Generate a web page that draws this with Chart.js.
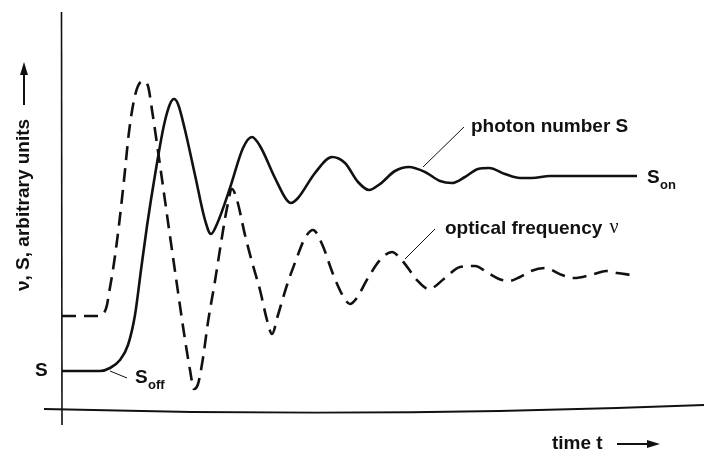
<!DOCTYPE html>
<html>
<head>
<meta charset="utf-8">
<script src="https://cdn.jsdelivr.net/npm/chart.js@4"></script>
<style>
  html, body { margin: 0; padding: 0; background: #fff; }
  #chart { display: block; }
</style>
</head>
<body>
<canvas id="chart" width="704" height="452"></canvas>
<script>
// time axis in arbitrary units (0..160), signal axis in arbitrary units (0..100)

// photon number S (solid)
const photonT = [0, 9.5, 12, 14.5, 16.5, 18.25, 19.75, 21.25, 23.25, 25.5, 27, 28, 29, 30.75, 33.25, 35.75,
  37.25, 38.75, 42, 45.25, 47.5, 49.5, 53.25, 56, 57.25, 59, 63.25, 67.5, 70.75, 74, 76.75, 79.5,
  83.25, 86.75, 90.75, 94.5, 97.5, 100.75, 104, 106.75, 110.75, 114.5, 117.5, 122, 134.5, 143.75];
const photonS = [9.75, 9.75, 10.5, 12.5, 16.25, 23.75, 35, 46, 58.75, 71.25, 76.5, 77.75, 76.5, 70, 58.75, 47.5,
  44, 46.5, 55.5, 65.5, 68.25, 66, 58, 52.75, 51.75, 53, 59.25, 63.25, 61.75, 57, 55, 56.5,
  59.75, 60.75, 59.5, 57.25, 56.75, 58.25, 60.25, 60.5, 59, 58, 58, 58.5, 58.5, 58.5];

// optical frequency nu (dashed)
const freqT = [0, 9.5, 10.5, 11.25, 11.75, 12.5, 13.25, 14.25, 15.5, 16.75, 18, 19, 20.25, 21.5, 22.5, 24.5,
  26.5, 28.5, 30.5, 32, 33, 34, 35.25, 36.5, 38.25, 39.75, 41.25, 42.5, 43.75, 45.75, 47.5, 49.5,
  51.25, 52.5, 54, 56.25, 58.5, 60.75, 62.75, 65, 67.75, 70.25, 72, 73.5, 76.5, 79.5, 82.5, 84.5,
  86.5, 88.5, 91.75, 95.75, 99.5, 103.25, 106.5, 109.25, 111.75, 114.5, 117.25, 120.75, 125, 128,
  133, 136, 138.75, 142.5];
const freqNu = [23.5, 23.5, 24.25, 26.25, 29.25, 33.5, 38.5, 46.25, 57.5, 69.5, 77.5, 81, 82.25, 81, 75, 61.25,
  47, 33, 19.25, 10, 5.25, 6.5, 13, 22, 32.25, 41.75, 50.5, 55.25, 52.5, 43.75, 37, 30,
  22.5, 19, 23.75, 31.25, 37.5, 43, 45, 41.5, 34, 28.5, 26.5, 27.75, 33, 37.5, 39.5, 38,
  35.5, 32.75, 30.25, 33, 35.75, 36, 34.25, 32.75, 32.25, 33.25, 34.75, 35.5, 33.75, 33,
  34, 34.75, 34.25, 33.75];

const toPoints = (xs, ys) => xs.map((x, i) => ({ x: x, y: ys[i] }));

const INK = '#111';
const FONT = "bold 19px 'Liberation Sans', Arial, sans-serif";
const SUB_FONT = "bold 13px 'Liberation Sans', Arial, sans-serif";
const NU_FONT = "20px 'Liberation Serif', 'DejaVu Serif', serif";

// axes, labels and leader lines drawn like the textbook figure
const sketchPlugin = {
  id: 'sketch',
  afterDraw(chart) {
    const ctx = chart.ctx;
    const xs = chart.scales.x;
    const ys = chart.scales.y;
    const px = v => xs.getPixelForValue(v);
    const py = v => ys.getPixelForValue(v);
    ctx.save();
    ctx.strokeStyle = INK;
    ctx.fillStyle = INK;

    // vertical axis
    ctx.lineWidth = 1.6;
    ctx.beginPath();
    ctx.moveTo(px(0) - 0.5, chart.chartArea.top + 2);
    ctx.lineTo(px(0), py(0) + 15);
    ctx.stroke();

    // horizontal axis (slightly bowed, as in the scan)
    ctx.lineWidth = 1.8;
    ctx.beginPath();
    ctx.moveTo(px(0) - 18, py(0) - 1);
    ctx.quadraticCurveTo(374, py(0) + 8, chart.width, py(0) - 5);
    ctx.stroke();

    // leader lines
    ctx.lineWidth = 1;
    ctx.beginPath();
    ctx.moveTo(px(12), py(9.75));
    ctx.lineTo(px(16.25), py(8));
    ctx.moveTo(px(100.5), py(70.75));
    ctx.lineTo(px(90.25), py(60.75));
    ctx.moveTo(px(93.25), py(45.25));
    ctx.lineTo(px(85.75), py(37.75));
    ctx.stroke();

    ctx.textBaseline = 'middle';
    ctx.textAlign = 'left';
    ctx.font = FONT;
    ctx.fillText('S', 35, 371);
    ctx.fillText('S', 135, 378);
    ctx.fillText('S', 647, 178);
    ctx.fillText('photon number S', 471, 127);
    const freqLabel = 'optical frequency ';
    ctx.fillText(freqLabel, 445, 229);
    const nuX = 445 + ctx.measureText(freqLabel).width + 2;
    ctx.fillText('time t', 552, 444);
    ctx.font = NU_FONT;
    ctx.fillText('\u03bd', nuX, 228);
    ctx.font = SUB_FONT;
    ctx.fillText('off', 148, 385);
    ctx.fillText('on', 660, 185);

    // time arrow
    ctx.lineWidth = 2;
    ctx.beginPath();
    ctx.moveTo(617, 444);
    ctx.lineTo(650, 444);
    ctx.stroke();
    ctx.beginPath();
    ctx.moveTo(660, 444);
    ctx.lineTo(647, 440);
    ctx.lineTo(647, 448);
    ctx.closePath();
    ctx.fill();

    // vertical axis title
    ctx.save();
    ctx.translate(24, 291);
    ctx.rotate(-Math.PI / 2);
    ctx.font = FONT;
    ctx.fillText('\u03bd, S, arbitrary units', 0, 0);
    ctx.restore();
    ctx.beginPath();
    ctx.moveTo(24, 105);
    ctx.lineTo(24, 72);
    ctx.stroke();
    ctx.beginPath();
    ctx.moveTo(24, 62);
    ctx.lineTo(20, 75);
    ctx.lineTo(28, 75);
    ctx.closePath();
    ctx.fill();

    ctx.restore();
  }
};

new Chart(document.getElementById('chart'), {
  type: 'line',
  data: {
    datasets: [
      {
        label: 'photon number S',
        data: toPoints(photonT, photonS),
        borderColor: INK,
        borderWidth: 2.6,
        pointRadius: 0,
        cubicInterpolationMode: 'monotone',
        fill: false
      },
      {
        label: 'optical frequency ν',
        data: toPoints(freqT, freqNu),
        borderColor: INK,
        borderWidth: 2.6,
        borderDash: [14, 8],
        pointRadius: 0,
        cubicInterpolationMode: 'monotone',
        fill: false
      }
    ]
  },
  options: {
    responsive: false,
    animation: false,
    layout: { padding: { left: 62, right: 2, top: 10, bottom: 42 } },
    scales: {
      x: { type: 'linear', min: 0, max: 160, display: false },
      y: { type: 'linear', min: 0, max: 100, display: false }
    },
    plugins: {
      legend: { display: false },
      tooltip: { enabled: false }
    }
  },
  plugins: [sketchPlugin]
});
</script>
</body>
</html>
